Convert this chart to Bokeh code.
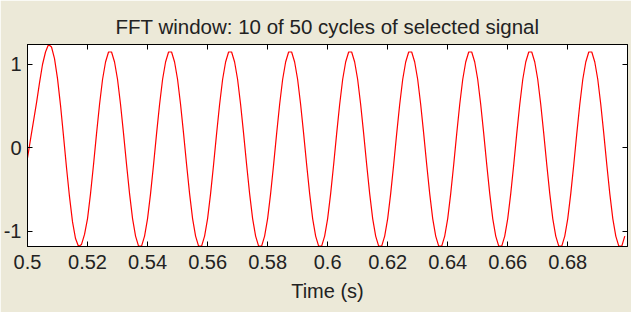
from bokeh.plotting import figure
from bokeh.models import LinearAxis, Range1d, FixedTicker
from bokeh.embed import file_html
from bokeh.resources import INLINE

# ---------------- data ----------------
title_text = "FFT window: 10 of 50 cycles of selected signal"
x_label = "Time (s)"

x_ticks = [0.5, 0.52, 0.54, 0.56, 0.58, 0.6, 0.62, 0.64, 0.66, 0.68]
x_tick_labels = ["0.5", "0.52", "0.54", "0.56", "0.58", "0.6", "0.62", "0.64", "0.66", "0.68"]
y_ticks = [-1, 0, 1]
y_tick_labels = ["-1", "0", "1"]

# sample times (1 ms grid) and signal values, one row per cycle
time_s = [round(0.5 + 0.001 * k, 3) for k in range(200)]
signal = [
    -0.12, 0.10, 0.32, 0.54, 0.78, 1.00, 1.15, 1.24, 1.21, 1.07, 0.83, 0.51, 0.14, -0.24, -0.59, -0.89, -1.09, -1.185, -1.16, -1.04,
    -0.85, -0.55, -0.20, 0.17, 0.52, 0.82, 1.03, 1.15, 1.15, 1.03, 0.82, 0.52, 0.17, -0.20, -0.55, -0.85, -1.06, -1.18, -1.18, -1.06,
    -0.85, -0.55, -0.20, 0.17, 0.52, 0.82, 1.03, 1.15, 1.15, 1.03, 0.82, 0.52, 0.17, -0.20, -0.55, -0.85, -1.06, -1.18, -1.18, -1.06,
    -0.85, -0.55, -0.20, 0.17, 0.52, 0.82, 1.03, 1.15, 1.15, 1.03, 0.82, 0.52, 0.17, -0.20, -0.55, -0.85, -1.06, -1.18, -1.18, -1.06,
    -0.85, -0.55, -0.20, 0.17, 0.52, 0.82, 1.03, 1.15, 1.15, 1.03, 0.82, 0.52, 0.17, -0.20, -0.55, -0.85, -1.06, -1.18, -1.18, -1.06,
    -0.85, -0.55, -0.20, 0.17, 0.52, 0.82, 1.03, 1.15, 1.15, 1.03, 0.82, 0.52, 0.17, -0.20, -0.55, -0.85, -1.06, -1.18, -1.18, -1.06,
    -0.85, -0.55, -0.20, 0.17, 0.52, 0.82, 1.03, 1.15, 1.15, 1.03, 0.82, 0.52, 0.17, -0.20, -0.55, -0.85, -1.06, -1.18, -1.18, -1.06,
    -0.85, -0.55, -0.20, 0.17, 0.52, 0.82, 1.03, 1.15, 1.15, 1.03, 0.82, 0.52, 0.17, -0.20, -0.55, -0.85, -1.06, -1.18, -1.18, -1.06,
    -0.85, -0.55, -0.20, 0.17, 0.52, 0.82, 1.03, 1.15, 1.15, 1.03, 0.82, 0.52, 0.17, -0.20, -0.55, -0.85, -1.06, -1.18, -1.18, -1.06,
    -0.85, -0.55, -0.20, 0.17, 0.52, 0.82, 1.03, 1.15, 1.15, 1.03, 0.82, 0.52, 0.17, -0.20, -0.55, -0.85, -1.06, -1.18, -1.18, -1.06,
]

# ---------------- styling ----------------
FONT = "Liberation Sans"
FS = "20px"
BG = "#ECE9D8"
INK = "#222222"

p = figure(width=631, height=312, output_backend="svg", toolbar_location=None,
           x_range=Range1d(0.5, 0.6999), y_range=Range1d(-1.185, 1.24),
           min_border_left=23, min_border_right=4, min_border_top=44, min_border_bottom=66,
           title=title_text)
p.background_fill_color = "white"
p.border_fill_color = BG
p.outline_line_color = "black"
p.outline_line_width = 1
p.grid.visible = False

p.title.text_font = FONT
p.title.text_font_size = "20.5px"
p.title.text_font_style = "normal"
p.title.text_color = INK
p.title.align = "center"
p.title.standoff = 13

p.line(time_s, signal, line_color="red", line_width=1.2)


def style_axis(ax, ticks, labels, show_labels):
    ax.ticker = FixedTicker(ticks=ticks)
    ax.axis_line_color = "black"
    ax.major_tick_line_color = "black"
    ax.major_tick_in = 5
    ax.major_tick_out = 0
    ax.minor_tick_line_color = None
    ax.major_label_text_font = FONT
    ax.major_label_text_color = INK
    if show_labels:
        ax.major_label_overrides = {t: l for t, l in zip(ticks, labels)}
        ax.major_label_text_font_size = FS
        ax.major_label_standoff = 8
    else:
        ax.major_label_overrides = {t: "" for t in ticks}
        ax.major_label_text_font_size = "0px"
        ax.major_label_standoff = 0


style_axis(p.xaxis[0], x_ticks, x_tick_labels, True)
style_axis(p.yaxis[0], y_ticks, y_tick_labels, True)
p.yaxis[0].major_label_standoff = 6
p.xaxis[0].axis_label = x_label
p.xaxis[0].axis_label_text_font = FONT
p.xaxis[0].axis_label_text_font_size = FS
p.xaxis[0].axis_label_text_font_style = "normal"
p.xaxis[0].axis_label_text_color = INK
p.xaxis[0].axis_label_standoff = 8

top_axis = LinearAxis()
style_axis(top_axis, x_ticks, x_tick_labels, False)
p.add_layout(top_axis, "above")
right_axis = LinearAxis()
style_axis(right_axis, y_ticks, y_tick_labels, False)
p.add_layout(right_axis, "right")

open("out.html", "w").write(file_html(p, INLINE))
